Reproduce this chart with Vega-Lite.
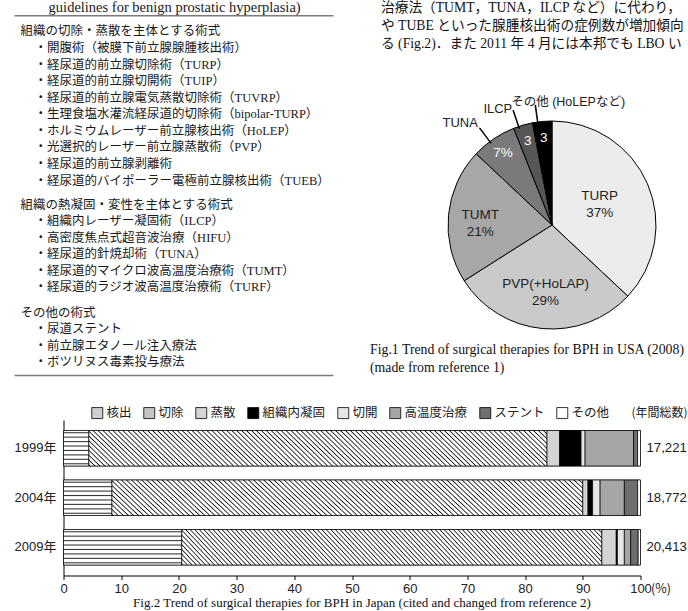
{
"$schema": "https://vega.github.io/schema/vega-lite/v6.json",
"padding": {"left": 13.5, "top": 0, "right": 0, "bottom": 0},
"background": "#ffffff",
"config": {"view": {"stroke": null}},
"resolve": {"scale": {"color": "independent"}, "legend": {"color": "independent"}},
"spacing": 26,
"vconcat": [
{
"spacing": 35.5,
"hconcat": [
{
"width": 270, "height": 380,
"data": {"values": [
{"grp": 0, "line": 0, "level": 2, "t": "guidelines for benign prostatic hyperplasia)"},
{"grp": 1, "line": 1, "level": 0, "t": "組織の切除・蒸散を主体とする術式"},
{"grp": 1, "line": 2, "level": 1, "t": "・開腹術（被膜下前立腺腺腫核出術）"},
{"grp": 1, "line": 3, "level": 1, "t": "・経尿道的前立腺切除術（TURP）"},
{"grp": 1, "line": 4, "level": 1, "t": "・経尿道的前立腺切開術（TUIP）"},
{"grp": 1, "line": 5, "level": 1, "t": "・経尿道的前立腺電気蒸散切除術（TUVRP）"},
{"grp": 1, "line": 6, "level": 1, "t": "・生理食塩水灌流経尿道的切除術（bipolar-TURP）"},
{"grp": 1, "line": 7, "level": 1, "t": "・ホルミウムレーザー前立腺核出術（HoLEP）"},
{"grp": 1, "line": 8, "level": 1, "t": "・光選択的レーザー前立腺蒸散術（PVP）"},
{"grp": 1, "line": 9, "level": 1, "t": "・経尿道的前立腺剥離術"},
{"grp": 1, "line": 10, "level": 1, "t": "・経尿道的バイポーラー電極前立腺核出術（TUEB）"},
{"grp": 2, "line": 11, "level": 0, "t": "組織の熱凝固・変性を主体とする術式"},
{"grp": 2, "line": 12, "level": 1, "t": "・組織内レーザー凝固術（ILCP）"},
{"grp": 2, "line": 13, "level": 1, "t": "・高密度焦点式超音波治療（HIFU）"},
{"grp": 2, "line": 14, "level": 1, "t": "・経尿道的針焼却術（TUNA）"},
{"grp": 2, "line": 15, "level": 1, "t": "・経尿道的マイクロ波高温度治療術（TUMT）"},
{"grp": 2, "line": 16, "level": 1, "t": "・経尿道的ラジオ波高温度治療術（TURF）"},
{"grp": 3, "line": 17, "level": 0, "t": "その他の術式"},
{"grp": 3, "line": 18, "level": 1, "t": "・尿道ステント"},
{"grp": 3, "line": 19, "level": 1, "t": "・前立腺エタノール注入療法"},
{"grp": 3, "line": 20, "level": 1, "t": "・ボツリヌス毒素投与療法"}
]},
"layer": [
{"data": {"values": [{}]}, "mark": {"type": "rule", "color": "#7a7a7a", "strokeWidth": 1.6},
 "encoding": {
  "x": {"datum": -0.4286, "type": "quantitative", "scale": {"domain": [3.0643, 22.35], "nice": false, "zero": false}, "axis": null},
  "x2": {"datum": 22.35},
  "y": {"datum": 0.046, "type": "quantitative", "scale": {"domain": [-0.902, 22.044], "reverse": true, "nice": false, "zero": false}, "axis": null}}},
{"data": {"values": [{}]}, "mark": {"type": "rule", "color": "#7a7a7a", "strokeWidth": 1.6},
 "encoding": {
  "x": {"datum": -0.4286, "type": "quantitative", "scale": {"domain": [3.0643, 22.35], "nice": false, "zero": false}, "axis": null},
  "x2": {"datum": 22.35},
  "y": {"datum": 21.77, "type": "quantitative", "scale": {"domain": [-0.902, 22.044], "reverse": true, "nice": false, "zero": false}, "axis": null}}},
{"transform": [{"filter": "datum.grp === 0"}],
 "mark": {"type": "text", "align": "left", "baseline": "middle", "dy": -6.9, "font": "Liberation Serif", "fontSize": 14.5, "color": "#1a1a1a"},
 "encoding": {"x": {"field": "level", "type": "quantitative", "scale": {"domain": [3.0643, 22.35], "nice": false, "zero": false}, "axis": null},
  "y": {"field": "line", "type": "quantitative", "scale": {"domain": [-0.902, 22.044], "reverse": true, "nice": false, "zero": false}, "axis": null},
  "text": {"field": "t"}}},
{"transform": [{"filter": "datum.grp === 1"}],
 "mark": {"type": "text", "align": "left", "baseline": "middle", "dy": 0, "font": "Liberation Serif, Noto Sans CJK JP", "fontSize": 12.5, "color": "#1a1a1a"},
 "encoding": {"x": {"field": "level", "type": "quantitative", "scale": {"domain": [3.0643, 22.35], "nice": false, "zero": false}, "axis": null},
  "y": {"field": "line", "type": "quantitative", "scale": {"domain": [-0.902, 22.044], "reverse": true, "nice": false, "zero": false}, "axis": null},
  "text": {"field": "t"}}},
{"transform": [{"filter": "datum.grp === 2"}],
 "mark": {"type": "text", "align": "left", "baseline": "middle", "dy": 7.5, "font": "Liberation Serif, Noto Sans CJK JP", "fontSize": 12.5, "color": "#1a1a1a"},
 "encoding": {"x": {"field": "level", "type": "quantitative", "scale": {"domain": [3.0643, 22.35], "nice": false, "zero": false}, "axis": null},
  "y": {"field": "line", "type": "quantitative", "scale": {"domain": [-0.902, 22.044], "reverse": true, "nice": false, "zero": false}, "axis": null},
  "text": {"field": "t"}}},
{"transform": [{"filter": "datum.grp === 3"}],
 "mark": {"type": "text", "align": "left", "baseline": "middle", "dy": 16.2, "font": "Liberation Serif, Noto Sans CJK JP", "fontSize": 12.5, "color": "#1a1a1a"},
 "encoding": {"x": {"field": "level", "type": "quantitative", "scale": {"domain": [3.0643, 22.35], "nice": false, "zero": false}, "axis": null},
  "y": {"field": "line", "type": "quantitative", "scale": {"domain": [-0.902, 22.044], "reverse": true, "nice": false, "zero": false}, "axis": null},
  "text": {"field": "t"}}}
]
},
{
"spacing": 54, "bounds": "flush",
"vconcat": [
{
"width": 320, "height": 56,
"data": {"values": [
{"line": 1, "t": "治療法（TUMT，TUNA，ILCP など）に代わり，"},
{"line": 2, "t": "や TUBE といった腺腫核出術の症例数が増加傾向"},
{"line": 3, "t": "る (Fig.2)．また 2011 年 4 月には本邦でも LBO い"}
]},
"mark": {"type": "text", "align": "left", "baseline": "middle", "clip": true, "dx": 11, "font": "Liberation Serif, Noto Sans CJK JP", "fontSize": 13.7, "color": "#111111"},
"encoding": {
 "x": {"datum": 0, "type": "quantitative", "scale": {"domain": [0, 1], "nice": false, "zero": false}, "axis": null},
 "y": {"field": "line", "type": "quantitative", "scale": {"domain": [0.5556, 3.6667], "reverse": true, "nice": false, "zero": false}, "axis": null},
 "text": {"field": "t"}
}
},
{
"width": 320, "height": 230,
"data": {"values": [
{"name": "TURP", "pct": 37, "ord": 1, "lbl": "TURP\n37%"},
{"name": "PVP(+HoLAP)", "pct": 29, "ord": 2, "lbl": "PVP(+HoLAP)\n29%"},
{"name": "TUMT", "pct": 21, "ord": 3, "lbl": "TUMT\n21%"},
{"name": "TUNA", "pct": 7, "ord": 4, "lbl": "7%"},
{"name": "ILCP", "pct": 3, "ord": 5, "lbl": "3"},
{"name": "その他 (HoLEPなど)", "pct": 3, "ord": 6, "lbl": "3"}
]},
"transform": [
 {"stack": "pct", "groupby": [], "sort": [{"field": "ord", "order": "ascending"}], "as": ["a0", "a1"]},
 {"calculate": "(datum.a0 + datum.a1) / 2", "as": "mid"},
 {"calculate": "datum.mid - 0.75", "as": "ld0"},
 {"calculate": "datum.mid - 0.65", "as": "ld1"}
],
"title": {"text": ["Fig.1 Trend of surgical therapies for BPH in USA (2008)", "\u00a0\u00a0\u00a0\u00a0(made from reference 1)"], "orient": "bottom", "anchor": "start", "frame": "group", "offset": 3, "font": "Liberation Serif", "fontSize": 13.8, "fontWeight": "normal", "color": "#111111", "lineHeight": 18},
"layer": [
{"mark": {"type": "arc", "radius": 104, "stroke": "#000000", "strokeWidth": 1, "xOffset": 22},
 "encoding": {
  "theta": {"field": "a0", "type": "quantitative", "stack": null, "scale": {"domain": [0, 100]}},
  "theta2": {"field": "a1"},
  "color": {"condition": [
    {"test": "datum.ord === 1", "value": "#ececec"},
    {"test": "datum.ord === 2", "value": "#cacaca"},
    {"test": "datum.ord === 3", "value": "#a7a7a7"},
    {"test": "datum.ord === 4", "value": "#7a7a7a"},
    {"test": "datum.ord === 5", "value": "#565656"}
  ], "value": "#000000"}
 }},
{"transform": [{"filter": "datum.ord === 1"}],
 "mark": {"type": "text", "radius": 52, "xOffset": 22, "dy": -8.5, "lineBreak": "\n", "lineHeight": 17, "font": "Liberation Sans", "fontSize": 13.5, "color": "#222222", "align": "center", "baseline": "middle"},
 "encoding": {"theta": {"field": "mid", "type": "quantitative", "stack": null, "scale": {"domain": [0, 100]}}, "text": {"field": "lbl"}}},
{"transform": [{"filter": "datum.ord === 2"}],
 "mark": {"type": "text", "radius": 68, "xOffset": 22, "dy": -8.5, "lineBreak": "\n", "lineHeight": 17, "font": "Liberation Sans", "fontSize": 13.5, "color": "#222222", "align": "center", "baseline": "middle"},
 "encoding": {"theta": {"field": "mid", "type": "quantitative", "stack": null, "scale": {"domain": [0, 100]}}, "text": {"field": "lbl"}}},
{"transform": [{"filter": "datum.ord === 3"}],
 "mark": {"type": "text", "radius": 72, "xOffset": 22, "dy": -3, "lineBreak": "\n", "lineHeight": 17, "font": "Liberation Sans", "fontSize": 13.5, "color": "#222222", "align": "center", "baseline": "middle"},
 "encoding": {"theta": {"field": "mid", "type": "quantitative", "stack": null, "scale": {"domain": [0, 100]}}, "text": {"field": "lbl"}}},
{"transform": [{"filter": "datum.ord >= 4"}],
 "mark": {"type": "text", "radius": 87, "xOffset": 22, "font": "Liberation Sans", "fontSize": 13.5, "color": "#ffffff", "align": "center", "baseline": "middle"},
 "encoding": {"theta": {"field": "mid", "type": "quantitative", "stack": null, "scale": {"domain": [0, 100]}}, "text": {"field": "lbl"}}},
{"transform": [{"filter": "datum.ord >= 4"}],
 "mark": {"type": "arc", "radius": 121, "radius2": 102, "fill": "#000000", "stroke": "#000000", "strokeWidth": 0.8, "xOffset": 22},
 "encoding": {"theta": {"field": "ld0", "type": "quantitative", "stack": null, "scale": {"domain": [0, 100]}}, "theta2": {"field": "ld1"}}},
{"transform": [{"filter": "datum.ord === 4"}],
 "mark": {"type": "text", "radius": 126, "xOffset": 22, "dx": -21, "dy": 2, "font": "Liberation Sans, Noto Sans CJK JP", "fontSize": 13, "color": "#222222", "align": "center", "baseline": "middle"},
 "encoding": {"theta": {"field": "mid", "type": "quantitative", "stack": null, "scale": {"domain": [0, 100]}}, "text": {"field": "name"}}},
{"transform": [{"filter": "datum.ord === 5"}],
 "mark": {"type": "text", "radius": 126, "xOffset": 22, "dx": -19, "dy": 5, "font": "Liberation Sans, Noto Sans CJK JP", "fontSize": 13, "color": "#222222", "align": "center", "baseline": "middle"},
 "encoding": {"theta": {"field": "mid", "type": "quantitative", "stack": null, "scale": {"domain": [0, 100]}}, "text": {"field": "name"}}},
{"transform": [{"filter": "datum.ord === 6"}],
 "mark": {"type": "text", "radius": 126, "xOffset": 22, "dx": 28, "dy": 2, "font": "Liberation Sans, Noto Sans CJK JP", "fontSize": 12.5, "color": "#222222", "align": "center", "baseline": "middle"},
 "encoding": {"theta": {"field": "mid", "type": "quantitative", "stack": null, "scale": {"domain": [0, 100]}}, "text": {"field": "name"}}}
]
}
]
}
]
},
{
"width": 577, "height": 155.5,
"data": {"values": [
{"year": "1999年", "cat": "核出", "pct": 4.4, "ord": 1},
{"year": "1999年", "cat": "切除", "pct": 79.4, "ord": 2},
{"year": "1999年", "cat": "蒸散", "pct": 2.2, "ord": 3},
{"year": "1999年", "cat": "組織内凝固", "pct": 3.7, "ord": 4},
{"year": "1999年", "cat": "切開", "pct": 0.7, "ord": 5},
{"year": "1999年", "cat": "高温度治療", "pct": 8.4, "ord": 6},
{"year": "1999年", "cat": "ステント", "pct": 0.7, "ord": 7},
{"year": "1999年", "cat": "その他", "pct": 0.5, "ord": 8},
{"year": "2004年", "cat": "核出", "pct": 8.4, "ord": 1},
{"year": "2004年", "cat": "切除", "pct": 81.6, "ord": 2},
{"year": "2004年", "cat": "蒸散", "pct": 0.9, "ord": 3},
{"year": "2004年", "cat": "組織内凝固", "pct": 0.8, "ord": 4},
{"year": "2004年", "cat": "切開", "pct": 1.3, "ord": 5},
{"year": "2004年", "cat": "高温度治療", "pct": 4.2, "ord": 6},
{"year": "2004年", "cat": "ステント", "pct": 2.3, "ord": 7},
{"year": "2004年", "cat": "その他", "pct": 0.5, "ord": 8},
{"year": "2009年", "cat": "核出", "pct": 20.5, "ord": 1},
{"year": "2009年", "cat": "切除", "pct": 72.8, "ord": 2},
{"year": "2009年", "cat": "蒸散", "pct": 2.5, "ord": 3},
{"year": "2009年", "cat": "組織内凝固", "pct": 0.2, "ord": 4},
{"year": "2009年", "cat": "切開", "pct": 1.2, "ord": 5},
{"year": "2009年", "cat": "高温度治療", "pct": 1.1, "ord": 6},
{"year": "2009年", "cat": "ステント", "pct": 1.3, "ord": 7},
{"year": "2009年", "cat": "その他", "pct": 0.4, "ord": 8}
]},
"transform": [{"stack": "pct", "groupby": ["year"], "sort": [{"field": "ord", "order": "ascending"}], "as": ["x0", "x1"]}],
"title": {"text": "Fig.2 Trend of surgical therapies for BPH in Japan (cited and changed from reference 2)", "orient": "bottom", "anchor": "middle", "dx": 10, "offset": 2, "font": "Liberation Serif", "fontSize": 13, "fontWeight": "normal", "color": "#111111"},
"layer": [
{"mark": {"type": "bar", "stroke": "#000000", "strokeWidth": 0.7},
"encoding": {
 "y": {"field": "year", "type": "nominal", "sort": ["1999年", "2004年", "2009年"], "scale": {"paddingInner": 0.283, "paddingOuter": 0.212},
  "axis": {"title": null, "ticks": false, "labelPadding": 7.5, "labelFont": "Liberation Sans, Noto Sans CJK JP", "labelFontSize": 13, "labelColor": "#222222", "domainColor": "#000000", "domainWidth": 1}},
 "x": {"field": "x0", "type": "quantitative", "scale": {"domain": [0, 100], "nice": false},
  "axis": {"values": [0, 10, 20, 30, 40, 50, 60, 70, 80, 90, 100], "title": "(%)", "titleX": 587, "titleY": 13, "titleAlign": "left", "titleBaseline": "middle", "titleFont": "Noto Sans CJK JP", "titleFontSize": 12.5, "titleFontWeight": "normal", "titleColor": "#222222", "labelFont": "Liberation Sans", "labelFontSize": 13, "labelColor": "#222222", "labelFlush": false, "labelPadding": 2.5, "tickSize": 4, "tickColor": "#000000", "domainColor": "#000000", "grid": false}},
 "x2": {"field": "x1"},
 "color": {"field": "cat", "type": "nominal",
  "scale": {"domain": ["核出", "切除", "蒸散", "組織内凝固", "切開", "高温度治療", "ステント", "その他"], "range": ["#cfcfcf", "#c4c4c4", "#d4d4d4", "#000000", "#e6e6e6", "#a6a6a6", "#6e6e6e", "#ffffff"]},
  "legend": {
   "orient": "none", "legendX": 27.5, "legendY": -13.5, "direction": "horizontal", "columns": 8, "title": null,
   "symbolType": "square", "symbolSize": 121, "symbolStrokeColor": "#000000", "symbolStrokeWidth": 0.8,
   "labelFont": "Noto Sans CJK JP", "labelFontSize": 12.5, "labelColor": "#222222", "labelOffset": 3, "columnPadding": 10,
   "encoding": {"symbols": {
    "stroke": {"value": "#000000"},
    "strokeWidth": {"value": 0.8},
    "fill": {"condition": [
     {"test": "datum.value === '核出'", "value": {"gradient": "linear", "x1": 0, "y1": 0, "x2": 0, "y2": 1, "stops": [{"offset":0.035,"color":"#fff"},{"offset":0.125,"color":"#333"},{"offset":0.215,"color":"#fff"},{"offset":0.285,"color":"#fff"},{"offset":0.375,"color":"#333"},{"offset":0.465,"color":"#fff"},{"offset":0.535,"color":"#fff"},{"offset":0.625,"color":"#333"},{"offset":0.715,"color":"#fff"},{"offset":0.785,"color":"#fff"},{"offset":0.875,"color":"#333"},{"offset":0.965,"color":"#fff"}]}},
     {"test": "datum.value === '切除'", "value": {"gradient": "linear", "x1": 0, "y1": 1, "x2": 1, "y2": 0, "stops": [{"offset":0.05,"color":"#fff"},{"offset":0.1,"color":"#111"},{"offset":0.15,"color":"#fff"},{"offset":0.25,"color":"#fff"},{"offset":0.3,"color":"#111"},{"offset":0.35,"color":"#fff"},{"offset":0.45,"color":"#fff"},{"offset":0.5,"color":"#111"},{"offset":0.55,"color":"#fff"},{"offset":0.65,"color":"#fff"},{"offset":0.7,"color":"#111"},{"offset":0.75,"color":"#fff"},{"offset":0.85,"color":"#fff"},{"offset":0.9,"color":"#111"},{"offset":0.95,"color":"#fff"}]}},
     {"test": "datum.value === '蒸散'", "value": "#d4d4d4"},
     {"test": "datum.value === '組織内凝固'", "value": "#000000"},
     {"test": "datum.value === '切開'", "value": "#e6e6e6"},
     {"test": "datum.value === '高温度治療'", "value": "#a6a6a6"},
     {"test": "datum.value === 'ステント'", "value": "#6e6e6e"}
    ], "value": "#ffffff"}
   }}
  }
 }
}},
{"mark": {"type": "bar", "stroke": "#000000", "strokeWidth": 0.7},
 "encoding": {
  "y": {"field": "year", "type": "nominal", "sort": ["1999年", "2004年", "2009年"]},
  "x": {"field": "x0", "type": "quantitative"},
  "x2": {"field": "x1"},
  "color": {"condition": [
   {"test": "datum.cat === '核出'", "value": {"gradient": "linear", "x1": 0, "y1": 0, "x2": 0, "y2": 1, "stops": [{"offset":0.0325,"color":"#fff"},{"offset":0.0625,"color":"#333"},{"offset":0.0925,"color":"#fff"},{"offset":0.1575,"color":"#fff"},{"offset":0.1875,"color":"#333"},{"offset":0.2175,"color":"#fff"},{"offset":0.2825,"color":"#fff"},{"offset":0.3125,"color":"#333"},{"offset":0.3425,"color":"#fff"},{"offset":0.4075,"color":"#fff"},{"offset":0.4375,"color":"#333"},{"offset":0.4675,"color":"#fff"},{"offset":0.5325,"color":"#fff"},{"offset":0.5625,"color":"#333"},{"offset":0.5925,"color":"#fff"},{"offset":0.6575,"color":"#fff"},{"offset":0.6875,"color":"#333"},{"offset":0.7175,"color":"#fff"},{"offset":0.7825,"color":"#fff"},{"offset":0.8125,"color":"#333"},{"offset":0.8425,"color":"#fff"},{"offset":0.9075,"color":"#fff"},{"offset":0.9375,"color":"#333"},{"offset":0.9675,"color":"#fff"}]}},
   {"test": "datum.cat === '切除'", "value": {"gradient": "linear", "x1": 0, "y1": 1, "x2": 1.0731, "y2": 0.9142, "stops": [
{"offset":0.00,"color":"#fff"},{"offset":0.0025,"color":"#1a1a1a"},{"offset":0.005,"color":"#fff"},
{"offset":0.01,"color":"#fff"},{"offset":0.0125,"color":"#1a1a1a"},{"offset":0.015,"color":"#fff"},
{"offset":0.02,"color":"#fff"},{"offset":0.0225,"color":"#1a1a1a"},{"offset":0.025,"color":"#fff"},
{"offset":0.03,"color":"#fff"},{"offset":0.0325,"color":"#1a1a1a"},{"offset":0.035,"color":"#fff"},
{"offset":0.04,"color":"#fff"},{"offset":0.0425,"color":"#1a1a1a"},{"offset":0.045,"color":"#fff"},
{"offset":0.05,"color":"#fff"},{"offset":0.0525,"color":"#1a1a1a"},{"offset":0.055,"color":"#fff"},
{"offset":0.06,"color":"#fff"},{"offset":0.0625,"color":"#1a1a1a"},{"offset":0.065,"color":"#fff"},
{"offset":0.07,"color":"#fff"},{"offset":0.0725,"color":"#1a1a1a"},{"offset":0.075,"color":"#fff"},
{"offset":0.08,"color":"#fff"},{"offset":0.0825,"color":"#1a1a1a"},{"offset":0.085,"color":"#fff"},
{"offset":0.09,"color":"#fff"},{"offset":0.0925,"color":"#1a1a1a"},{"offset":0.095,"color":"#fff"},
{"offset":0.10,"color":"#fff"},{"offset":0.1025,"color":"#1a1a1a"},{"offset":0.105,"color":"#fff"},
{"offset":0.11,"color":"#fff"},{"offset":0.1125,"color":"#1a1a1a"},{"offset":0.115,"color":"#fff"},
{"offset":0.12,"color":"#fff"},{"offset":0.1225,"color":"#1a1a1a"},{"offset":0.125,"color":"#fff"},
{"offset":0.13,"color":"#fff"},{"offset":0.1325,"color":"#1a1a1a"},{"offset":0.135,"color":"#fff"},
{"offset":0.14,"color":"#fff"},{"offset":0.1425,"color":"#1a1a1a"},{"offset":0.145,"color":"#fff"},
{"offset":0.15,"color":"#fff"},{"offset":0.1525,"color":"#1a1a1a"},{"offset":0.155,"color":"#fff"},
{"offset":0.16,"color":"#fff"},{"offset":0.1625,"color":"#1a1a1a"},{"offset":0.165,"color":"#fff"},
{"offset":0.17,"color":"#fff"},{"offset":0.1725,"color":"#1a1a1a"},{"offset":0.175,"color":"#fff"},
{"offset":0.18,"color":"#fff"},{"offset":0.1825,"color":"#1a1a1a"},{"offset":0.185,"color":"#fff"},
{"offset":0.19,"color":"#fff"},{"offset":0.1925,"color":"#1a1a1a"},{"offset":0.195,"color":"#fff"},
{"offset":0.20,"color":"#fff"},{"offset":0.2025,"color":"#1a1a1a"},{"offset":0.205,"color":"#fff"},
{"offset":0.21,"color":"#fff"},{"offset":0.2125,"color":"#1a1a1a"},{"offset":0.215,"color":"#fff"},
{"offset":0.22,"color":"#fff"},{"offset":0.2225,"color":"#1a1a1a"},{"offset":0.225,"color":"#fff"},
{"offset":0.23,"color":"#fff"},{"offset":0.2325,"color":"#1a1a1a"},{"offset":0.235,"color":"#fff"},
{"offset":0.24,"color":"#fff"},{"offset":0.2425,"color":"#1a1a1a"},{"offset":0.245,"color":"#fff"},
{"offset":0.25,"color":"#fff"},{"offset":0.2525,"color":"#1a1a1a"},{"offset":0.255,"color":"#fff"},
{"offset":0.26,"color":"#fff"},{"offset":0.2625,"color":"#1a1a1a"},{"offset":0.265,"color":"#fff"},
{"offset":0.27,"color":"#fff"},{"offset":0.2725,"color":"#1a1a1a"},{"offset":0.275,"color":"#fff"},
{"offset":0.28,"color":"#fff"},{"offset":0.2825,"color":"#1a1a1a"},{"offset":0.285,"color":"#fff"},
{"offset":0.29,"color":"#fff"},{"offset":0.2925,"color":"#1a1a1a"},{"offset":0.295,"color":"#fff"},
{"offset":0.30,"color":"#fff"},{"offset":0.3025,"color":"#1a1a1a"},{"offset":0.305,"color":"#fff"},
{"offset":0.31,"color":"#fff"},{"offset":0.3125,"color":"#1a1a1a"},{"offset":0.315,"color":"#fff"},
{"offset":0.32,"color":"#fff"},{"offset":0.3225,"color":"#1a1a1a"},{"offset":0.325,"color":"#fff"},
{"offset":0.33,"color":"#fff"},{"offset":0.3325,"color":"#1a1a1a"},{"offset":0.335,"color":"#fff"},
{"offset":0.34,"color":"#fff"},{"offset":0.3425,"color":"#1a1a1a"},{"offset":0.345,"color":"#fff"},
{"offset":0.35,"color":"#fff"},{"offset":0.3525,"color":"#1a1a1a"},{"offset":0.355,"color":"#fff"},
{"offset":0.36,"color":"#fff"},{"offset":0.3625,"color":"#1a1a1a"},{"offset":0.365,"color":"#fff"},
{"offset":0.37,"color":"#fff"},{"offset":0.3725,"color":"#1a1a1a"},{"offset":0.375,"color":"#fff"},
{"offset":0.38,"color":"#fff"},{"offset":0.3825,"color":"#1a1a1a"},{"offset":0.385,"color":"#fff"},
{"offset":0.39,"color":"#fff"},{"offset":0.3925,"color":"#1a1a1a"},{"offset":0.395,"color":"#fff"},
{"offset":0.40,"color":"#fff"},{"offset":0.4025,"color":"#1a1a1a"},{"offset":0.405,"color":"#fff"},
{"offset":0.41,"color":"#fff"},{"offset":0.4125,"color":"#1a1a1a"},{"offset":0.415,"color":"#fff"},
{"offset":0.42,"color":"#fff"},{"offset":0.4225,"color":"#1a1a1a"},{"offset":0.425,"color":"#fff"},
{"offset":0.43,"color":"#fff"},{"offset":0.4325,"color":"#1a1a1a"},{"offset":0.435,"color":"#fff"},
{"offset":0.44,"color":"#fff"},{"offset":0.4425,"color":"#1a1a1a"},{"offset":0.445,"color":"#fff"},
{"offset":0.45,"color":"#fff"},{"offset":0.4525,"color":"#1a1a1a"},{"offset":0.455,"color":"#fff"},
{"offset":0.46,"color":"#fff"},{"offset":0.4625,"color":"#1a1a1a"},{"offset":0.465,"color":"#fff"},
{"offset":0.47,"color":"#fff"},{"offset":0.4725,"color":"#1a1a1a"},{"offset":0.475,"color":"#fff"},
{"offset":0.48,"color":"#fff"},{"offset":0.4825,"color":"#1a1a1a"},{"offset":0.485,"color":"#fff"},
{"offset":0.49,"color":"#fff"},{"offset":0.4925,"color":"#1a1a1a"},{"offset":0.495,"color":"#fff"},
{"offset":0.50,"color":"#fff"},{"offset":0.5025,"color":"#1a1a1a"},{"offset":0.505,"color":"#fff"},
{"offset":0.51,"color":"#fff"},{"offset":0.5125,"color":"#1a1a1a"},{"offset":0.515,"color":"#fff"},
{"offset":0.52,"color":"#fff"},{"offset":0.5225,"color":"#1a1a1a"},{"offset":0.525,"color":"#fff"},
{"offset":0.53,"color":"#fff"},{"offset":0.5325,"color":"#1a1a1a"},{"offset":0.535,"color":"#fff"},
{"offset":0.54,"color":"#fff"},{"offset":0.5425,"color":"#1a1a1a"},{"offset":0.545,"color":"#fff"},
{"offset":0.55,"color":"#fff"},{"offset":0.5525,"color":"#1a1a1a"},{"offset":0.555,"color":"#fff"},
{"offset":0.56,"color":"#fff"},{"offset":0.5625,"color":"#1a1a1a"},{"offset":0.565,"color":"#fff"},
{"offset":0.57,"color":"#fff"},{"offset":0.5725,"color":"#1a1a1a"},{"offset":0.575,"color":"#fff"},
{"offset":0.58,"color":"#fff"},{"offset":0.5825,"color":"#1a1a1a"},{"offset":0.585,"color":"#fff"},
{"offset":0.59,"color":"#fff"},{"offset":0.5925,"color":"#1a1a1a"},{"offset":0.595,"color":"#fff"},
{"offset":0.60,"color":"#fff"},{"offset":0.6025,"color":"#1a1a1a"},{"offset":0.605,"color":"#fff"},
{"offset":0.61,"color":"#fff"},{"offset":0.6125,"color":"#1a1a1a"},{"offset":0.615,"color":"#fff"},
{"offset":0.62,"color":"#fff"},{"offset":0.6225,"color":"#1a1a1a"},{"offset":0.625,"color":"#fff"},
{"offset":0.63,"color":"#fff"},{"offset":0.6325,"color":"#1a1a1a"},{"offset":0.635,"color":"#fff"},
{"offset":0.64,"color":"#fff"},{"offset":0.6425,"color":"#1a1a1a"},{"offset":0.645,"color":"#fff"},
{"offset":0.65,"color":"#fff"},{"offset":0.6525,"color":"#1a1a1a"},{"offset":0.655,"color":"#fff"},
{"offset":0.66,"color":"#fff"},{"offset":0.6625,"color":"#1a1a1a"},{"offset":0.665,"color":"#fff"},
{"offset":0.67,"color":"#fff"},{"offset":0.6725,"color":"#1a1a1a"},{"offset":0.675,"color":"#fff"},
{"offset":0.68,"color":"#fff"},{"offset":0.6825,"color":"#1a1a1a"},{"offset":0.685,"color":"#fff"},
{"offset":0.69,"color":"#fff"},{"offset":0.6925,"color":"#1a1a1a"},{"offset":0.695,"color":"#fff"},
{"offset":0.70,"color":"#fff"},{"offset":0.7025,"color":"#1a1a1a"},{"offset":0.705,"color":"#fff"},
{"offset":0.71,"color":"#fff"},{"offset":0.7125,"color":"#1a1a1a"},{"offset":0.715,"color":"#fff"},
{"offset":0.72,"color":"#fff"},{"offset":0.7225,"color":"#1a1a1a"},{"offset":0.725,"color":"#fff"},
{"offset":0.73,"color":"#fff"},{"offset":0.7325,"color":"#1a1a1a"},{"offset":0.735,"color":"#fff"},
{"offset":0.74,"color":"#fff"},{"offset":0.7425,"color":"#1a1a1a"},{"offset":0.745,"color":"#fff"},
{"offset":0.75,"color":"#fff"},{"offset":0.7525,"color":"#1a1a1a"},{"offset":0.755,"color":"#fff"},
{"offset":0.76,"color":"#fff"},{"offset":0.7625,"color":"#1a1a1a"},{"offset":0.765,"color":"#fff"},
{"offset":0.77,"color":"#fff"},{"offset":0.7725,"color":"#1a1a1a"},{"offset":0.775,"color":"#fff"},
{"offset":0.78,"color":"#fff"},{"offset":0.7825,"color":"#1a1a1a"},{"offset":0.785,"color":"#fff"},
{"offset":0.79,"color":"#fff"},{"offset":0.7925,"color":"#1a1a1a"},{"offset":0.795,"color":"#fff"},
{"offset":0.80,"color":"#fff"},{"offset":0.8025,"color":"#1a1a1a"},{"offset":0.805,"color":"#fff"},
{"offset":0.81,"color":"#fff"},{"offset":0.8125,"color":"#1a1a1a"},{"offset":0.815,"color":"#fff"},
{"offset":0.82,"color":"#fff"},{"offset":0.8225,"color":"#1a1a1a"},{"offset":0.825,"color":"#fff"},
{"offset":0.83,"color":"#fff"},{"offset":0.8325,"color":"#1a1a1a"},{"offset":0.835,"color":"#fff"},
{"offset":0.84,"color":"#fff"},{"offset":0.8425,"color":"#1a1a1a"},{"offset":0.845,"color":"#fff"},
{"offset":0.85,"color":"#fff"},{"offset":0.8525,"color":"#1a1a1a"},{"offset":0.855,"color":"#fff"},
{"offset":0.86,"color":"#fff"},{"offset":0.8625,"color":"#1a1a1a"},{"offset":0.865,"color":"#fff"},
{"offset":0.87,"color":"#fff"},{"offset":0.8725,"color":"#1a1a1a"},{"offset":0.875,"color":"#fff"},
{"offset":0.88,"color":"#fff"},{"offset":0.8825,"color":"#1a1a1a"},{"offset":0.885,"color":"#fff"},
{"offset":0.89,"color":"#fff"},{"offset":0.8925,"color":"#1a1a1a"},{"offset":0.895,"color":"#fff"},
{"offset":0.90,"color":"#fff"},{"offset":0.9025,"color":"#1a1a1a"},{"offset":0.905,"color":"#fff"},
{"offset":0.91,"color":"#fff"},{"offset":0.9125,"color":"#1a1a1a"},{"offset":0.915,"color":"#fff"},
{"offset":0.92,"color":"#fff"},{"offset":0.9225,"color":"#1a1a1a"},{"offset":0.925,"color":"#fff"},
{"offset":0.93,"color":"#fff"},{"offset":0.9325,"color":"#1a1a1a"},{"offset":0.935,"color":"#fff"},
{"offset":0.94,"color":"#fff"},{"offset":0.9425,"color":"#1a1a1a"},{"offset":0.945,"color":"#fff"},
{"offset":0.95,"color":"#fff"},{"offset":0.9525,"color":"#1a1a1a"},{"offset":0.955,"color":"#fff"},
{"offset":0.96,"color":"#fff"},{"offset":0.9625,"color":"#1a1a1a"},{"offset":0.965,"color":"#fff"},
{"offset":0.97,"color":"#fff"},{"offset":0.9725,"color":"#1a1a1a"},{"offset":0.975,"color":"#fff"},
{"offset":0.98,"color":"#fff"},{"offset":0.9825,"color":"#1a1a1a"},{"offset":0.985,"color":"#fff"},
{"offset":0.99,"color":"#fff"},{"offset":0.9925,"color":"#1a1a1a"},{"offset":0.995,"color":"#fff"}
]}},
   {"test": "datum.cat === '蒸散'", "value": "#d4d4d4"},
   {"test": "datum.cat === '組織内凝固'", "value": "#000000"},
   {"test": "datum.cat === '切開'", "value": "#e6e6e6"},
   {"test": "datum.cat === '高温度治療'", "value": "#a6a6a6"},
   {"test": "datum.cat === 'ステント'", "value": "#6e6e6e"}
  ], "value": "#ffffff"}
 }},
{"data": {"values": [
{"year": "1999年", "total": "17,221"},
{"year": "2004年", "total": "18,772"},
{"year": "2009年", "total": "20,413"}
]},
"mark": {"type": "text", "align": "left", "baseline": "middle", "dx": 6, "font": "Liberation Sans", "fontSize": 13.2, "color": "#1a1a1a"},
"encoding": {
 "y": {"field": "year", "type": "nominal", "sort": ["1999年", "2004年", "2009年"]},
 "x": {"datum": 100, "type": "quantitative"},
 "text": {"field": "total"}
}},
{"data": {"values": [{"t": "(年間総数)"}]},
"mark": {"type": "text", "align": "left", "baseline": "middle", "dx": -9, "dy": -35, "font": "Noto Sans CJK JP", "fontSize": 12, "color": "#222222"},
"encoding": {
 "y": {"datum": "1999年", "type": "nominal"},
 "x": {"datum": 100, "type": "quantitative"},
 "text": {"field": "t"}
}}
]
}
]
}
